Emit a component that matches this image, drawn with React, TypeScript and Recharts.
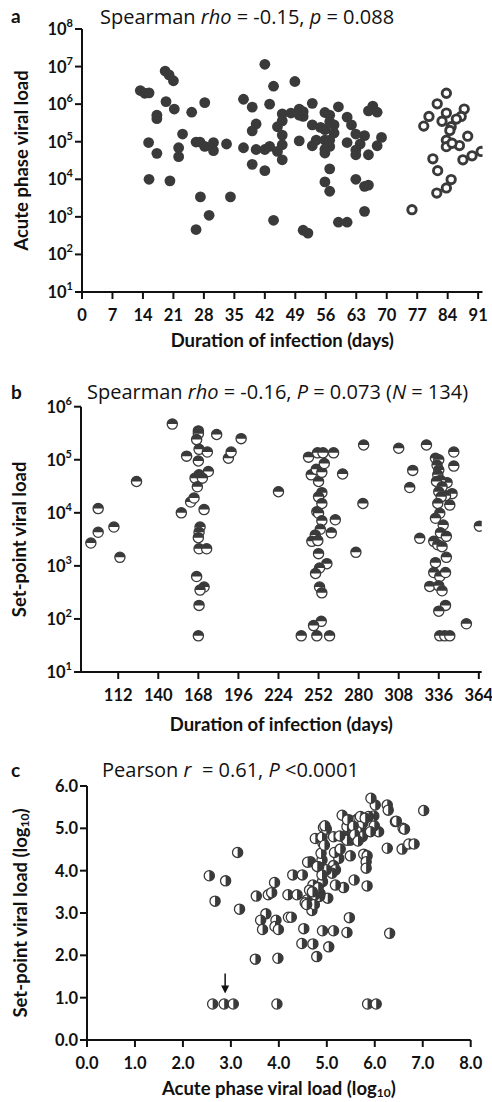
import React from 'react';
import { ScatterChart, Scatter, XAxis, YAxis, ReferenceLine, ReferenceDot } from 'recharts';

// tick sets
const acuteDayTicks = [0, 7, 14, 21, 28, 35, 42, 49, 56, 63, 70, 77, 84, 91];
const setpointDayTicks = [112, 140, 168, 196, 224, 252, 280, 308, 336, 364];
const logTicksA = [1e1, 1e2, 1e3, 1e4, 1e5, 1e6, 1e7, 1e8];
const logTicksB = [1e1, 1e2, 1e3, 1e4, 1e5, 1e6];
const log10TicksX = [0, 1, 2, 3, 4, 5, 6, 7, 8];
const log10TicksY = [0, 1, 2, 3, 4, 5, 6];

// panel a: [duration (days), acute phase viral load]
const acuteFilled: [number, number][] = [
  [13.4, 2.3e6], [14.4, 1.95e6], [15.4, 2.0e6], [15.3, 9.5e4], [15.4, 1.0e4], [17.2, 5.1e5],
  [17.2, 4.1e5], [17.2, 4.9e4], [19.1, 7.6e6], [20.0, 6.0e6], [21.0, 4.2e6], [19.3, 1.17e6],
  [21.2, 7.4e5], [20.2, 9.1e3], [23.1, 1.6e5], [22.2, 6.9e4], [22.2, 4.0e4], [25.2, 6.1e5],
  [28.2, 1.1e6], [26.2, 9.8e4], [27.1, 9.8e4], [28.2, 7.5e4], [30.2, 9.5e4], [30.2, 5.8e4],
  [33.2, 8.7e4], [27.2, 3.4e3], [29.2, 1.1e3], [26.2, 4.6e2], [34.1, 3.4e3], [37.1, 1.35e6],
  [37.1, 6.9e4], [39.1, 8.3e5], [40.0, 2.96e5], [39.1, 1.95e5], [40.0, 6.2e4], [39.1, 2.5e4],
  [42.0, 1.15e7], [44.0, 3.0e6], [43.1, 1.0e6], [42.0, 6.2e4], [43.1, 7.5e4], [42.0, 1.7e4],
  [44.0, 8.1e2], [44.9, 2.5e5], [46.0, 5.5e5], [46.0, 3.6e5], [46.0, 1.5e5], [46.0, 8.3e4],
  [44.9, 5.5e4], [46.0, 3.3e4], [48.0, 5.8e5], [48.9, 4.0e6], [49.9, 7.4e5], [50.8, 6.3e5],
  [49.9, 5.1e5], [50.8, 4.7e5], [49.9, 1.05e5], [52.9, 1.05e6], [52.9, 2.8e5], [53.8, 1.1e5],
  [52.9, 7.8e4], [50.8, 4.4e2], [51.9, 3.7e2], [54.8, 2.4e5], [55.8, 6.0e5], [55.8, 2.1e5],
  [55.8, 1.1e5], [55.8, 6.3e4], [55.8, 5.0e4], [56.9, 5.1e5], [56.9, 3.4e5], [57.9, 2.8e5],
  [57.9, 1.7e5], [56.9, 1.1e5], [56.9, 7.5e4], [56.9, 1.9e4], [55.8, 8.5e3], [56.9, 4.8e3],
  [58.9, 8.5e5], [58.9, 7.2e2], [60.9, 7.2e2], [60.9, 4.5e5], [61.9, 2.8e5], [60.9, 9.5e4],
  [62.9, 1.6e5], [62.9, 6.0e4], [62.9, 4.5e4], [63.9, 8.7e4], [62.9, 1.0e4], [64.9, 1.45e5],
  [65.8, 4.5e4], [64.9, 6.5e3], [65.8, 7.0e3], [64.9, 1.4e3], [65.8, 6.6e5], [66.8, 8.9e5],
  [67.8, 6.1e5], [67.8, 7.8e4], [68.8, 1.3e5],
];

const acuteOpen: [number, number][] = [
  [83.7, 1.95e6], [81.6, 1.02e6], [79.7, 4.7e5], [78.5, 2.6e5], [83.7, 5.8e5], [82.7, 3.5e5],
  [84.8, 2.5e5], [84.5, 2.0e5], [87.8, 7.4e5], [87.1, 4.7e5], [83.7, 1.1e5], [83.7, 7.4e4],
  [86.7, 7.9e4], [88.6, 1.4e5], [87.5, 3.3e4], [89.6, 4.2e4], [91.7, 5.5e4], [80.6, 3.5e4],
  [81.7, 1.7e4], [84.8, 9.8e3], [83.7, 5.9e3], [81.5, 4.3e3], [75.8, 1.55e3], [85.0, 9.1e4],
  [86.0, 4.0e5],
];

// panel b: [duration (days), set-point viral load]
const setpointPoints: [number, number][] = [
  [92.9, 2.7e3], [98.0, 4.3e3], [98.0, 1.2e4], [109.0, 5.4e3], [113.2, 1.45e3], [124.8, 3.9e4],
  [149.8, 4.7e5], [159.8, 1.17e5], [156.1, 1.0e4], [162.6, 1.6e4], [165.0, 1.9e4], [168.0, 3.5e5],
  [168.0, 3.1e5], [166.8, 2.4e5], [168.5, 1.57e5], [168.0, 9.5e4], [174.3, 1.4e5], [180.8, 3.0e5],
  [175.0, 6.0e4], [168.5, 5.2e4], [165.7, 4.5e4], [170.8, 4.5e4], [167.3, 3.1e4], [172.0, 1.15e4],
  [169.2, 5.4e3], [168.5, 4.3e3], [168.0, 3.4e3], [168.5, 2.1e3], [173.8, 2.1e3], [166.8, 6.3e2],
  [172.0, 4.0e2], [169.2, 3.5e2], [168.5, 1.8e2], [168.0, 48], [189.0, 1.07e5], [190.9, 1.4e5],
  [197.9, 2.5e5], [224.0, 2.5e4], [245.0, 1.12e5], [246.9, 5.2e4], [250.4, 6.6e4], [252.0, 3.9e4],
  [254.3, 5.8e4], [251.3, 1.35e5], [255.1, 1.35e5], [256.0, 8.5e4], [254.3, 2.4e4], [252.0, 2.0e4],
  [254.3, 1.5e4], [250.8, 1.05e4], [252.0, 9.8e3], [254.3, 7.1e3], [253.2, 4.9e3], [249.7, 3.8e3],
  [247.3, 2.9e3], [251.5, 3.0e3], [252.0, 1.7e3], [257.8, 1.1e3], [252.7, 9.1e2], [249.9, 7.2e2],
  [252.7, 4.0e2], [254.3, 3.1e2], [253.9, 90], [248.5, 75], [239.9, 48], [250.8, 48],
  [259.7, 48], [262.5, 1.35e5], [268.8, 5.4e4], [263.7, 7.4e3], [260.9, 4.2e3], [283.5, 1.9e5],
  [283.0, 1.5e4], [278.1, 1.8e3], [308.0, 1.65e5], [327.4, 1.9e5], [317.8, 6.3e4], [315.7, 3.0e4],
  [322.7, 3.3e3], [329.7, 4.1e2], [355.3, 81], [364.4, 5.6e3], [346.5, 1.4e5], [346.5, 7.6e4],
  [345.3, 2.3e4], [343.7, 1.4e4], [341.8, 3.7e4], [340.7, 2.1e4], [333.7, 1.07e5], [336.0, 1.0e5],
  [334.8, 7.9e4], [336.0, 6.4e4], [335.3, 5.2e4], [337.2, 4.1e4], [334.4, 3.9e4], [338.3, 3.1e4],
  [336.0, 2.5e4], [337.7, 2.0e4], [335.3, 1.5e4], [336.7, 9.8e3], [333.7, 7.9e3], [339.1, 5.9e3],
  [337.2, 4.2e3], [332.5, 2.9e3], [335.3, 2.5e3], [341.3, 3.6e3], [338.3, 2.3e3], [341.3, 1.45e3],
  [333.7, 1.15e3], [332.5, 7.5e2], [336.7, 6.3e2], [340.7, 7.5e2], [336.0, 4.2e2], [338.3, 3.4e2],
  [340.7, 1.8e2], [336.0, 1.4e2], [336.7, 48], [340.2, 48], [343.7, 48],
];

// panel c: [acute log10, set-point log10]
const correlationPoints: [number, number][] = [
  [2.55, 3.88], [2.67, 3.28], [2.89, 3.76], [3.14, 4.43], [3.18, 3.09], [2.62, 0.85], [2.86, 0.85],
  [3.05, 0.85], [3.96, 0.85], [5.85, 0.85], [6.03, 0.85], [3.51, 1.91], [3.98, 1.93], [3.53, 3.40],
  [3.73, 2.98], [3.62, 2.83], [3.66, 2.61], [3.78, 3.43], [3.85, 3.48], [3.91, 3.72], [3.94, 2.83],
  [3.92, 2.68], [3.99, 2.61], [4.19, 3.43], [4.38, 3.43], [4.20, 2.90], [4.26, 2.90], [4.29, 3.90],
  [4.49, 3.90], [4.52, 2.63], [4.48, 2.28], [4.71, 2.27], [4.79, 1.97], [4.91, 2.58], [5.14, 2.58],
  [5.42, 2.54], [5.04, 2.20], [5.47, 2.89], [6.31, 2.52], [6.26, 4.53], [6.57, 4.51], [6.71, 4.63],
  [6.82, 4.63], [7.02, 5.42], [6.43, 5.16], [6.59, 5.00], [6.26, 5.55], [6.28, 5.43], [6.01, 5.55],
  [5.92, 5.71], [6.08, 4.92], [5.99, 5.06], [5.98, 5.29], [5.84, 3.64], [5.57, 3.78], [5.35, 3.60],
  [5.18, 3.66], [5.02, 3.35], [5.49, 4.35], [5.77, 4.39], [5.84, 4.35], [5.82, 4.21], [5.82, 4.06],
  [5.25, 4.29], [5.16, 4.43], [5.28, 4.51], [5.14, 4.12], [5.18, 4.02], [5.11, 3.94], [4.99, 4.02],
  [4.90, 4.25], [4.88, 4.41], [4.92, 4.65], [4.76, 4.76], [4.90, 4.79], [4.93, 5.02], [4.99, 4.98],
  [5.14, 4.80], [5.32, 5.31], [5.39, 4.82], [5.46, 5.20], [5.42, 5.04], [5.35, 4.79], [5.60, 4.76],
  [5.63, 4.92], [5.62, 5.20], [5.67, 5.24], [5.70, 5.00], [5.74, 4.80], [5.49, 4.72], [5.42, 4.72],
  [5.27, 4.82], [4.66, 4.21], [4.71, 3.66], [4.79, 3.54], [4.64, 3.54], [4.59, 3.31], [4.55, 3.24],
  [4.69, 3.06], [4.74, 3.20], [4.86, 3.46], [4.91, 3.74], [4.85, 3.39], [4.76, 3.43], [4.83, 4.09],
  [4.90, 3.90], [5.91, 4.92], [5.87, 5.28], [5.75, 5.12], [5.70, 5.28], [5.80, 5.24], [5.43, 5.20],
  [6.45, 5.17], [6.62, 4.98], [4.96, 5.06], [5.55, 5.05], [5.58, 4.85], [5.65, 4.70], [4.95, 4.60],
  [4.80, 4.10], [4.60, 4.20], [4.82, 3.60], [4.70, 3.50], [4.58, 3.20],
];

// arrow marking the undetectable group in panel c
const arrowX = 2.88;
const arrowFrom = 1.57;
const arrowTo = 1.1;

const toRows = (pts: [number, number][]) => pts.map(([x, y]) => ({ x, y }));

const FONT = 'Lato, "Open Sans", sans-serif';
const TITLE_FONT = '"Open Sans", Lato, sans-serif';
const INK = '#111';
const DOT = '#3a3a3a';

const axisLine = { stroke: INK, strokeWidth: 2 };
const tickStyle = { fill: INK, fontSize: 16.5, fontWeight: 700, fontFamily: FONT };

const FilledDot = (p: any) => <circle cx={p.cx} cy={p.cy} r={5.4} fill={DOT} />;
const RingDot = (p: any) => (
  <circle cx={p.cx} cy={p.cy} r={4.2} fill="#fff" stroke={DOT} strokeWidth={2.9} />
);
const TopHalfDot = (p: any) => {
  const r = 5.1;
  return (
    <g>
      <circle cx={p.cx} cy={p.cy} r={r} fill="#fff" stroke={DOT} strokeWidth={1.3} />
      <path d={`M${p.cx - r},${p.cy} A${r},${r} 0 0 1 ${p.cx + r},${p.cy} Z`} fill={DOT} />
    </g>
  );
};
const RightHalfDot = (p: any) => {
  const r = 5.1;
  return (
    <g>
      <circle cx={p.cx} cy={p.cy} r={r} fill="#fff" stroke={DOT} strokeWidth={1.3} />
      <path d={`M${p.cx},${p.cy - r} A${r},${r} 0 0 1 ${p.cx},${p.cy + r} Z`} fill={DOT} />
    </g>
  );
};

const PowerTick = (p: any) => {
  const exp = Math.round(Math.log10(p.payload.value));
  return (
    <text x={p.x} y={p.y + 6} textAnchor="end" {...tickStyle}>
      10<tspan dy={-8} fontSize={11}>{exp}</tspan>
    </text>
  );
};

const xTitle = (text: React.ReactNode, dy: number) => (p: any) => {
  const vb = p.viewBox;
  return (
    <text x={vb.x + vb.width / 2} y={vb.y + dy} textAnchor="middle" dominantBaseline="middle"
      fill={INK} fontSize={18.5} fontWeight={700} fontFamily={FONT}>{text}</text>
  );
};

const yTitle = (text: React.ReactNode, left: number) => (p: any) => {
  const vb = p.viewBox;
  const cy = vb.y + vb.height / 2;
  return (
    <text x={left} y={cy} transform={`rotate(-90 ${left} ${cy})`} textAnchor="middle"
      dominantBaseline="middle" fill={INK} fontSize={18.5} fontWeight={700} fontFamily={FONT}>{text}</text>
  );
};

const log10Label = (prefix: string) => (
  <>
    {prefix} (log<tspan dy={4} fontSize={12}>10</tspan><tspan dy={-4}>)</tspan>
  </>
);

const Heading = ({ top, left, children }: { top: number; left: number; children: React.ReactNode }) => (
  <div style={{ position: 'absolute', top, left, fontFamily: TITLE_FONT, fontSize: 20, lineHeight: '22px', color: INK, whiteSpace: 'nowrap' }}>
    {children}
  </div>
);

const PanelLetter = ({ top, children }: { top: number; children: React.ReactNode }) => (
  <div style={{ position: 'absolute', top, left: 11, fontFamily: FONT, fontSize: 19, fontWeight: 700, lineHeight: '20px', color: INK }}>
    {children}
  </div>
);

export default function App() {
  return (
    <div style={{ position: 'absolute', left: 0, top: 0, width: 492, height: 1102, background: '#fff' }}>
      <div style={{ position: 'absolute', left: 0, top: 0 }}>
        <ScatterChart width={492} height={362} margin={{ top: 29, right: 9.5, bottom: 0, left: 0 }}>
          <XAxis type="number" dataKey="x" domain={[0, 92]} ticks={acuteDayTicks} interval={0}
            allowDataOverflow height={70} axisLine={axisLine} tickLine={axisLine} tickSize={7}
            tickMargin={10} tick={tickStyle} label={xTitle('Duration of infection (days)', 50)} />
          <YAxis type="number" dataKey="y" scale="log" domain={[1e1, 1e8]} ticks={logTicksA}
            interval={0} allowDataOverflow width={82} axisLine={axisLine} tickLine={axisLine}
            tickSize={7} tickMargin={2} tick={<PowerTick />} label={yTitle('Acute phase viral load', 23)} />
          <Scatter data={toRows(acuteFilled)} shape={FilledDot} isAnimationActive={false} />
          <Scatter data={toRows(acuteOpen)} shape={RingDot} isAnimationActive={false} />
        </ScatterChart>
        <PanelLetter top={6}>a</PanelLetter>
        <Heading top={6} left={100}>
          Spearman <i>rho</i> = -0.15, <i>p</i> = 0.088
        </Heading>
      </div>

      <div style={{ position: 'absolute', left: 0, top: 362 }}>
        <ScatterChart width={492} height={384} margin={{ top: 44.7, right: 10.3, bottom: 0, left: 0 }}>
          <XAxis type="number" dataKey="x" domain={[86, 366]} ticks={setpointDayTicks} interval={0}
            allowDataOverflow height={74} axisLine={axisLine} tickLine={axisLine} tickSize={7}
            tickMargin={10} tick={tickStyle} label={xTitle('Duration of infection (days)', 54)} />
          <YAxis type="number" dataKey="y" scale="log" domain={[1e1, 1e6]} ticks={logTicksB}
            interval={0} allowDataOverflow width={81} axisLine={axisLine} tickLine={axisLine}
            tickSize={7} tickMargin={2} tick={<PowerTick />} label={yTitle('Set-point viral load', 21)} />
          <Scatter data={toRows(setpointPoints)} shape={TopHalfDot} isAnimationActive={false} />
        </ScatterChart>
        <PanelLetter top={20}>b</PanelLetter>
        <Heading top={19} left={87}>
          Spearman <i>rho</i> = -0.16, <i>P</i> = 0.073 (<i>N</i> = 134)
        </Heading>
      </div>

      <div style={{ position: 'absolute', left: 0, top: 746 }}>
        <ScatterChart width={492} height={356} margin={{ top: 40, right: 21.3, bottom: 0, left: 0 }}>
          <XAxis type="number" dataKey="x" domain={[0, 8]} ticks={log10TicksX} interval={0}
            allowDataOverflow height={62} axisLine={axisLine} tickLine={axisLine} tickSize={7}
            tickMargin={10} tick={tickStyle} tickFormatter={(v: number) => v.toFixed(1)}
            label={xTitle(log10Label('Acute phase viral load'), 50)} />
          <YAxis type="number" dataKey="y" domain={[0, 6]} ticks={log10TicksY} interval={0}
            allowDataOverflow width={87} axisLine={axisLine} tickLine={axisLine} tickSize={7}
            tickMargin={2} tick={tickStyle} tickFormatter={(v: number) => v.toFixed(1)}
            label={yTitle(log10Label('Set-point viral load'), 22)} />
          <Scatter data={toRows(correlationPoints)} shape={RightHalfDot} isAnimationActive={false} />
          <ReferenceLine segment={[{ x: arrowX, y: arrowFrom }, { x: arrowX, y: arrowTo + 0.1 }]}
            stroke={INK} strokeWidth={1.5} />
          <ReferenceDot x={arrowX} y={arrowTo} r={0}
            shape={(p: any) => (
              <path d={`M${p.cx - 4},${p.cy - 8} L${p.cx + 4},${p.cy - 8} L${p.cx},${p.cy} Z`} fill={INK} />
            )} />
        </ScatterChart>
        <PanelLetter top={14}>c</PanelLetter>
        <Heading top={13} left={102}>
          Pearson <i>r</i> &nbsp;= 0.61, <i>P</i> &lt;0.0001
        </Heading>
      </div>
    </div>
  );
}
